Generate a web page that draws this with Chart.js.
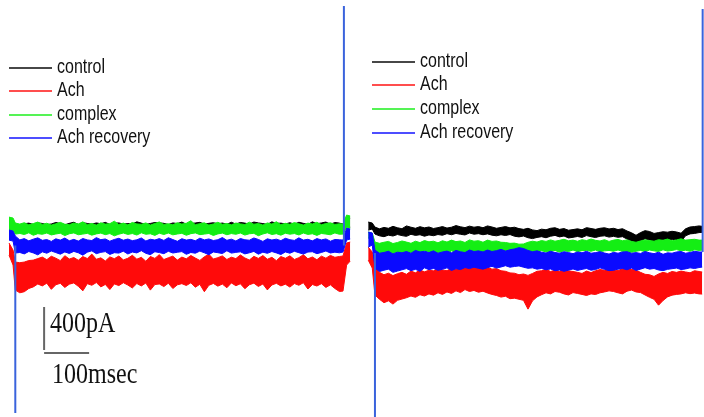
<!DOCTYPE html>
<html>
<head>
<meta charset="utf-8">
<script src="https://cdn.jsdelivr.net/npm/chart.js@4.4.1/dist/chart.umd.min.js"></script>
<style>
  html, body { margin: 0; padding: 0; background: #fff; }
  #wrap { position: relative; width: 704px; height: 417px; overflow: hidden; background: #fff; }
  canvas { position: absolute; top: 0; }
  .row { position: absolute; height: 20px; }
  .row .ln { position: absolute; left: 0; top: 9px; width: 43px; height: 2px; opacity: 0.72; }
  .row .tx { position: absolute; left: 48px; top: 0; line-height: 20px; white-space: nowrap;
             font: 16px "Liberation Sans", Arial, sans-serif; color: #111;
             transform: scaleY(1.28); transform-origin: 0 50%; }
  .cal { position: absolute; height: 30px; line-height: 30px; white-space: nowrap;
         font: 24px "Liberation Serif", "Times New Roman", serif; color: #111;
         transform: scaleY(1.23); transform-origin: 0 50%; }
</style>
</head>
<body>
<div id="wrap">
  <canvas id="left" width="352" height="417" style="left:0"></canvas>
  <canvas id="right" width="352" height="417" style="left:352px"></canvas>
</div>
<script>
// ---- recordings: whole-cell current (pA) against time (ms) ----
const SERIES_NAMES  = ['control', 'Ach', 'complex', 'Ach recovery'];
const SERIES_COLORS = ['#000000', '#ff0a0a', '#14ee14', '#0a0aff'];

// sweep 1 (left): sample times, ms (pre-step, 0..720 every 10 ms, post-step)
const LEFT_TIME = [-14, -5,
  0, 10, 20, 30, 40, 50, 60, 70, 80, 90, 100, 110, 120, 130, 140, 150, 160, 170, 180, 190, 200, 210,
  220, 230, 240, 250, 260, 270, 280, 290, 300, 310, 320, 330, 340, 350, 360, 370, 380, 390, 400, 410,
  420, 430, 440, 450, 460, 470, 480, 490, 500, 510, 520, 530, 540, 550, 560, 570, 580, 590, 600, 610,
  620, 630, 640, 650, 660, 670, 680, 690, 700, 710, 720,
  728, 736, 744];

// upper / lower noise envelope of each trace, pA
const LEFT_CONTROL_HI = [37, 28, 9,
  0, 12, 18, 5, 20, 15, 4, 10, 24, 14, 2, 16,
  26, 6, 22, 15, 8, 20, 12, 25, 6, 18, 20, 9,
  14, 10, 30, 18, 6, 15, 24, 20, 16, 5, 20, 14,
  28, 8, 12, 20, 25, 9, 16, 22, 12, 19, 8, 26,
  10, 24, 18, 9, 28, 20, 14, 6, 30, 15, 18, 10,
  22, 8, 26, 16, 6, 30, 12, 20, 28, 8, 24, 18,
  9, 74, 65];
const LEFT_CONTROL_LO = [-19, -28, -46,
  -40, -44, -38, -42, -40, -45, -38, -41, -43, -39, -42, -40,
  -44, -38, -41, -40, -43, -39, -42, -40, -45, -38, -41, -43,
  -40, -42, -39, -44, -40, -41, -38, -43, -40, -42, -39, -41,
  -43, -40, -38, -42, -41, -44, -39, -40, -42, -38, -43, -40,
  -41, -39, -44, -40, -42, -38, -41, -43, -40, -42, -39, -41,
  -40, -43, -38, -42, -41, -39, -44, -40, -42, -38, -41, -40,
  -40, -9, -19];
const LEFT_ACH_HI = [-167, -233, -344,
  -350, -344, -330, -326, -312, -298, -322, -290, -308, -331, -285, -316,
  -302, -327, -293, -311, -270, -318, -305, -334, -296, -313, -288, -324,
  -309, -281, -317, -300, -336, -292, -310, -275, -321, -304, -289, -326,
  -298, -314, -283, -307, -329, -295, -272, -316, -303, -287, -320, -299,
  -312, -278, -306, -325, -291, -310, -284, -318, -300, -331, -293, -309,
  -286, -320, -303, -276, -314, -297, -323, -289, -308, -282, -300, -292,
  -288, -167, -158];
const LEFT_ACH_LO = [-279, -372, -605,
  -630, -620, -590, -575, -548, -566, -540, -598, -555, -542, -580, -550,
  -538, -570, -612, -545, -560, -535, -575, -552, -600, -547, -563, -536,
  -558, -585, -544, -566, -539, -605, -553, -548, -572, -541, -590, -556,
  -545, -562, -537, -578, -551, -620, -560, -543, -568, -549, -583, -538,
  -564, -546, -592, -555, -540, -571, -548, -603, -557, -542, -566, -550,
  -577, -544, -560, -536, -595, -553, -567, -545, -580, -556, -590, -618,
  -614, -372, -335];
const LEFT_COMPLEX_HI = [74, 65, 19,
  9, 22, 2, 14, 28, 6, 17, 0, 12, 25, 8, 3,
  19, 10, 30, 4, 15, 0, 21, 9, 13, 36, 5, 18,
  2, 24, 11, 7, 20, 0, 15, 29, 6, 12, 3, 22,
  9, 17, 40, 4, 13, 21, 0, 10, 26, 7, 15, 2,
  19, 11, 5, 27, 8, 14, 0, 20, 9, 31, 4, 16,
  7, 23, 12, 0, 18, 10, 26, 3, 14, 21, 6, 12,
  9, 93, 84];
const LEFT_COMPLEX_LO = [-46, -56, -84,
  -78, -88, -72, -95, -80, -86, -74, -92, -83, -76, -98, -81,
  -73, -90, -84, -77, -94, -82, -75, -89, -79, -100, -85, -74,
  -87, -79, -93, -72, -86, -81, -96, -76, -88, -74, -91, -83,
  -77, -95, -80, -73, -89, -84, -78, -97, -82, -75, -90, -79,
  -86, -74, -93, -81, -77, -99, -83, -72, -88, -80, -94, -76,
  -85, -79, -92, -74, -87, -81, -96, -78, -84, -90, -73, -86,
  -84, -19, -28];
const LEFT_RECOVERY_HI = [-46, -56, -102,
  -138, -126, -147, -131, -119, -142, -135, -152, -128, -140, -121, -146,
  -133, -149, -125, -138, -144, -117, -136, -129, -150, -134, -123, -141,
  -130, -145, -137, -120, -148, -132, -139, -126, -143, -118, -135, -151,
  -127, -140, -133, -146, -122, -138, -129, -144, -136, -116, -142, -131,
  -148, -125, -137, -141, -120, -134, -152, -128, -139, -131, -145, -123,
  -136, -143, -119, -140, -132, -147, -126, -138, -129, -150, -134, -137,
  -140, -28, -37];
const LEFT_RECOVERY_LO = [-140, -149, -260,
  -255, -268, -246, -259, -277, -249, -262, -241, -256, -271, -250, -264,
  -245, -258, -280, -252, -240, -266, -254, -247, -273, -257, -261, -243,
  -269, -251, -259, -238, -263, -275, -248, -256, -266, -244, -260, -253,
  -247, -272, -255, -262, -242, -258, -276, -250, -257, -265, -239, -261,
  -254, -249, -268, -258, -245, -271, -252, -263, -246, -259, -274, -250,
  -262, -244, -257, -270, -251, -248, -266, -255, -241, -260, -252, -258,
  -251, -140, -130];

// sweep 2 (right): sample times, ms
const RIGHT_TIME = [-15, -6,
  0, 10, 20, 30, 40, 50, 60, 70, 80, 90, 100, 110, 120, 130, 140, 150, 160, 170, 180, 190, 200, 210,
  220, 230, 240, 250, 260, 270, 280, 290, 300, 310, 320, 330, 340, 350, 360, 370, 380, 390, 400, 410,
  420, 430, 440, 450, 460, 470, 480, 490, 500, 510, 520, 530, 540, 550, 560, 570, 580, 590, 600, 610,
  620, 630, 640, 650, 660, 670, 680, 690, 700, 710, 720,
  727];

const RIGHT_CONTROL_HI = [28, 19, -19,
  -35, -22, -30, -12, -25, -34, -8, -20, -30, -15, -26, -18,
  -32, -24, -14, -28, -20, -5, -16, -24, -10, -20, -14, -25,
  -8, -18, -30, -22, -14, -26, -20, -33, -40, -30, -45, -52,
  -38, -44, -30, -25, -40, -33, -48, -42, -35, -44, -24, -32,
  -40, -30, -25, -36, -30, -42, -34, -55, -72, -95, -70, -52,
  -60, -78, -70, -62, -66, -58, -64, -76, -35, -18, -14, -8,
  -12];
const RIGHT_CONTROL_LO = [-47, -37, -84,
  -100, -108, -94, -102, -88, -98, -105, -86, -96, -90, -104, -92,
  -99, -88, -95, -80, -90, -78, -86, -92, -74, -85, -80, -90,
  -82, -94, -100, -90, -97, -88, -104, -110, -102, -118, -126, -115,
  -108, -118, -104, -96, -110, -102, -120, -114, -106, -115, -98, -108,
  -116, -104, -100, -112, -105, -114, -108, -130, -150, -165, -145, -128,
  -138, -150, -144, -136, -140, -132, -138, -152, -100, -82, -78, -70,
  -68];
const RIGHT_ACH_HI = [-205, -251, -372,
  -440, -462, -448, -470, -452, -440, -458, -428, -444, -418, -435, -420,
  -426, -405, -418, -424, -402, -415, -395, -388, -402, -395, -380, -396,
  -392, -410, -405, -425, -430, -445, -448, -462, -455, -468, -450, -430,
  -425, -412, -432, -420, -430, -412, -426, -432, -440, -450, -428, -442,
  -425, -414, -420, -402, -416, -424, -405, -398, -412, -420, -440, -458,
  -462, -478, -455, -440, -450, -432, -440, -428, -436, -444, -425, -432,
  -437];
const RIGHT_ACH_LO = [-326, -400, -651,
  -690, -722, -705, -735, -700, -688, -676, -660, -672, -648, -660, -640,
  -652, -630, -645, -622, -636, -612, -628, -600, -618, -608, -625, -615,
  -632, -645, -655, -670, -662, -685, -680, -690, -700, -782, -705, -668,
  -648, -630, -640, -618, -625, -640, -650, -628, -636, -645, -655, -640,
  -646, -630, -622, -612, -618, -630, -640, -615, -605, -622, -628, -650,
  -672, -690, -745, -702, -668, -652, -645, -640, -630, -638, -632, -640,
  -642];
const RIGHT_COMPLEX_HI = [-65, -74, -158,
  -170, -160, -152, -172, -162, -148, -158, -170, -150, -163, -144, -156,
  -150, -165, -146, -158, -140, -154, -148, -162, -138, -150, -145, -160,
  -140, -152, -148, -160, -162, -170, -168, -178, -176, -160, -150, -158,
  -144, -152, -138, -150, -142, -132, -146, -140, -150, -136, -144, -130,
  -142, -148, -136, -152, -140, -134, -146, -138, -152, -160, -148, -138,
  -144, -150, -136, -142, -130, -146, -138, -128, -140, -136, -132, -140,
  -140];
const RIGHT_COMPLEX_LO = [-121, -130, -251,
  -268, -276, -258, -265, -252, -262, -270, -255, -250, -262, -240, -254,
  -248, -262, -255, -266, -240, -252, -246, -258, -236, -250, -244, -255,
  -240, -252, -258, -262, -266, -270, -275, -282, -272, -262, -250, -246,
  -238, -250, -244, -236, -252, -240, -246, -232, -248, -238, -236, -244,
  -232, -248, -240, -236, -244, -232, -246, -250, -254, -244, -236, -248,
  -232, -240, -246, -230, -242, -236, -228, -240, -234, -244, -230, -236,
  -233];
const RIGHT_RECOVERY_HI = [-65, -74, -233,
  -262, -255, -244, -268, -252, -258, -246, -262, -236, -250, -244, -256,
  -240, -262, -250, -242, -258, -236, -248, -256, -232, -246, -240, -250,
  -232, -246, -238, -226, -242, -230, -222, -210, -218, -236, -248, -240,
  -252, -260, -244, -255, -262, -248, -256, -266, -250, -258, -244, -262,
  -256, -248, -260, -270, -254, -262, -250, -248, -262, -256, -264, -246,
  -258, -266, -252, -272, -258, -262, -250, -246, -262, -255, -244, -250,
  -251];
const RIGHT_RECOVERY_LO = [-205, -186, -400,
  -432, -420, -410, -440, -428, -416, -405, -424, -412, -430, -398, -415,
  -404, -420, -412, -398, -422, -406, -414, -395, -405, -392, -402, -410,
  -396, -384, -400, -390, -378, -392, -385, -380, -392, -402, -398, -410,
  -404, -416, -408, -425, -418, -430, -420, -408, -422, -412, -404, -420,
  -414, -398, -412, -424, -420, -410, -404, -416, -400, -422, -410, -396,
  -410, -404, -418, -424, -412, -406, -400, -414, -408, -398, -404, -395,
  -391];

// capacitive transients at voltage step on/off: [time ms, start pA, peak pA]
const LEFT_TRANSIENTS  = [[0, -190, -1748], [730, -190, 2037]];
const RIGHT_TRANSIENTS = [[0, -260, -1785], [728, -250, 2009]];

// calibration bar
const CAL_PA = 400;
const CAL_MS = 100;

// ---- drawing ----
const Y_MIN = -1785, Y_MAX = 2093;

function pts(times, vals) { return times.map((t, i) => ({ x: t, y: vals[i] })); }

// one trace = filled region between its upper and lower envelope
function band(times, hi, lo, color, order) {
  return [
    { data: pts(times, hi), borderColor: color, backgroundColor: color, borderWidth: 1,
      fill: '+1', order: order },
    { data: pts(times, lo), borderColor: color, borderWidth: 1, fill: false, order: order }
  ];
}

function transients(list) {
  return list.map(([t, a, b]) => ({
    data: [{ x: t, y: a }, { x: t, y: b }], borderColor: '#3a63dc', borderWidth: 2,
    fill: false, order: 0
  }));
}

function build(id, times, traces, trans, xMin, xMax, extra) {
  // layer order: Ach recovery above complex, complex above control
  const layer = [4, 3, 2, 1];
  let ds = [];
  traces.forEach((tr, k) => {
    ds = ds.concat(band(times, tr[0], tr[1], SERIES_COLORS[k], layer[k]));
  });
  ds = ds.concat(transients(trans));
  if (extra) ds = ds.concat(extra);
  new Chart(document.getElementById(id), {
    type: 'line',
    data: { datasets: ds },
    options: {
      responsive: false, animation: false, events: [],
      layout: { padding: 0 },
      elements: { point: { radius: 0 }, line: { tension: 0 } },
      plugins: { legend: { display: false }, tooltip: { enabled: false } },
      scales: {
        x: { type: 'linear', display: false, min: xMin, max: xMax },
        y: { type: 'linear', display: false, min: Y_MIN, max: Y_MAX }
      }
    }
  });
}

// calibration bar drawn in data units of sweep 1
const calT = 64, calV = -763;
const calBar = [
  { data: [{ x: calT, y: calV }, { x: calT, y: calV - CAL_PA }], borderColor: '#666', borderWidth: 2, fill: false, order: 0 },
  { data: [{ x: calT, y: calV - CAL_PA - 27 }, { x: calT + CAL_MS, y: calV - CAL_PA - 27 }], borderColor: '#666', borderWidth: 2, fill: false, order: 0 }
];

build('left', LEFT_TIME,
  [[LEFT_CONTROL_HI, LEFT_CONTROL_LO], [LEFT_ACH_HI, LEFT_ACH_LO],
   [LEFT_COMPLEX_HI, LEFT_COMPLEX_LO], [LEFT_RECOVERY_HI, LEFT_RECOVERY_LO]],
  LEFT_TRANSIENTS, -34, 748, calBar);

build('right', RIGHT_TIME,
  [[RIGHT_CONTROL_HI, RIGHT_CONTROL_LO], [RIGHT_ACH_HI, RIGHT_ACH_LO],
   [RIGHT_COMPLEX_HI, RIGHT_COMPLEX_LO], [RIGHT_RECOVERY_HI, RIGHT_RECOVERY_LO]],
  RIGHT_TRANSIENTS, -51, 731);

// legends
const wrap = document.getElementById('wrap');
function legend(x, rowsY) {
  SERIES_NAMES.forEach((name, k) => {
    const row = document.createElement('div');
    row.className = 'row';
    row.style.left = x + 'px';
    row.style.top = Math.round(rowsY[k] - 10) + 'px';
    const ln = document.createElement('span');
    ln.className = 'ln';
    ln.style.background = SERIES_COLORS[k];
    const tx = document.createElement('span');
    tx.className = 'tx';
    tx.textContent = name;
    row.appendChild(ln);
    row.appendChild(tx);
    wrap.appendChild(row);
  });
}
legend(9, [68, 91, 114.5, 138]);
legend(372, [61.5, 85, 108.7, 133.3]);

// calibration labels
function cal(text, x, y) {
  const d = document.createElement('div');
  d.className = 'cal';
  d.style.left = x + 'px';
  d.style.top = y + 'px';
  d.textContent = text;
  wrap.appendChild(d);
}
cal(CAL_PA + 'pA', 50, 310);
cal(CAL_MS + 'msec', 52, 361);
</script>
</body>
</html>
